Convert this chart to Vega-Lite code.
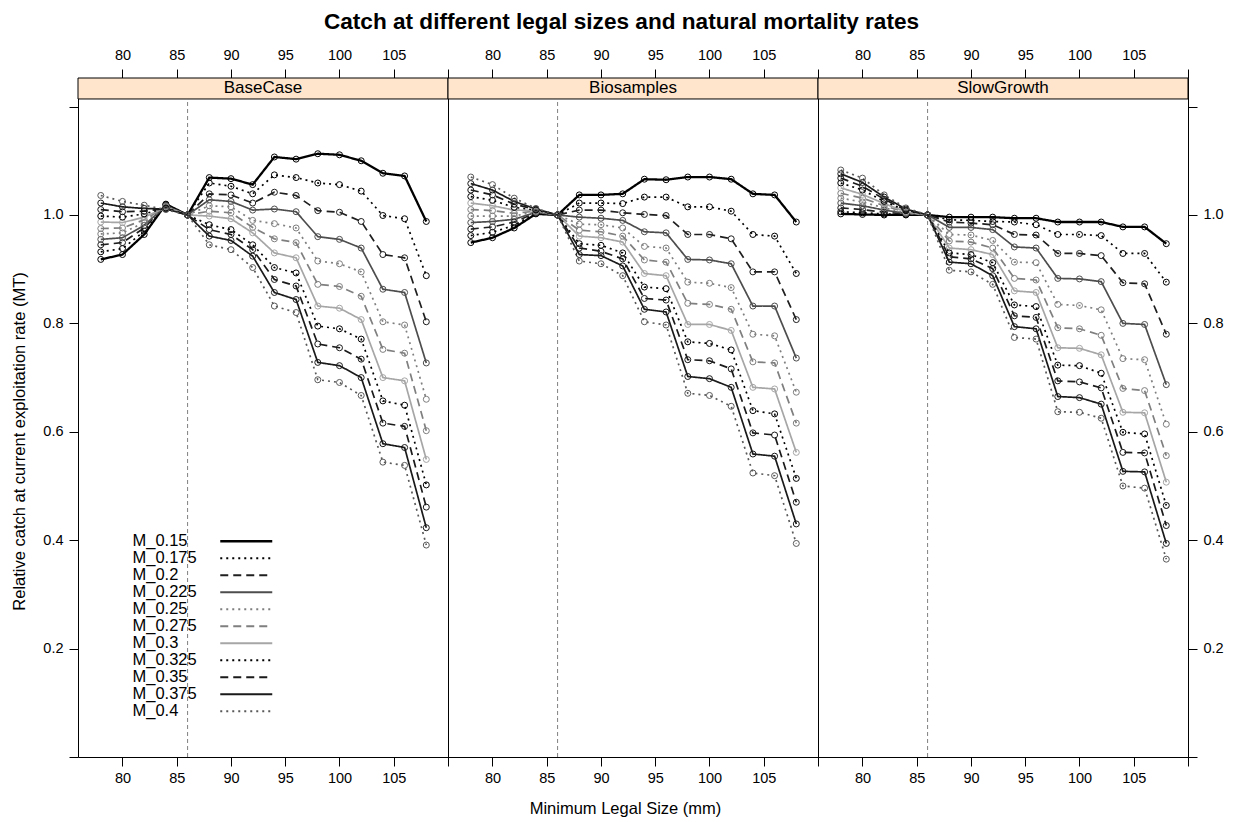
{
"$schema": "https://vega.github.io/schema/vega-lite/v6.json",
"background": "white",
"padding": {"left": 11, "right": 20, "top": 10, "bottom": 8},
"title": {"text": "Catch at different legal sizes and natural mortality rates", "font": "Liberation Sans", "fontSize": 22.6, "fontWeight": "bold", "anchor": "middle", "offset": 13, "dx": 4, "color": "#000"},
"config": {
  "view": {"stroke": "#000", "strokeWidth": 1},
  "axis": {"labelFont": "Liberation Sans", "labelFontSize": 14.5, "labelColor": "#000", "tickColor": "#000", "tickSize": 9, "tickWidth": 1, "domain": false, "grid": false, "titleFont": "Liberation Sans", "titleFontSize": 16.5, "titleFontWeight": "normal", "titleColor": "#000", "labelPadding": 4},
  "legend": {"labelFont": "Liberation Sans"}
},
"datasets": {"catch": [
{"panel":"BaseCase","M":"M_0.15","size":78,"catch":0.918},{"panel":"BaseCase","M":"M_0.15","size":80,"catch":0.927},{"panel":"BaseCase","M":"M_0.15","size":82,"catch":0.964},{"panel":"BaseCase","M":"M_0.15","size":84,"catch":1.020},{"panel":"BaseCase","M":"M_0.15","size":86,"catch":1.0},{"panel":"BaseCase","M":"M_0.15","size":88,"catch":1.069},{"panel":"BaseCase","M":"M_0.15","size":90,"catch":1.067},{"panel":"BaseCase","M":"M_0.15","size":92,"catch":1.056},{"panel":"BaseCase","M":"M_0.15","size":94,"catch":1.107},{"panel":"BaseCase","M":"M_0.15","size":96,"catch":1.103},{"panel":"BaseCase","M":"M_0.15","size":98,"catch":1.113},{"panel":"BaseCase","M":"M_0.15","size":100,"catch":1.111},{"panel":"BaseCase","M":"M_0.15","size":102,"catch":1.100},{"panel":"BaseCase","M":"M_0.15","size":104,"catch":1.077},{"panel":"BaseCase","M":"M_0.15","size":106,"catch":1.072},{"panel":"BaseCase","M":"M_0.15","size":108,"catch":0.988},
{"panel":"BaseCase","M":"M_0.175","size":78,"catch":0.932},{"panel":"BaseCase","M":"M_0.175","size":80,"catch":0.938},{"panel":"BaseCase","M":"M_0.175","size":82,"catch":0.970},{"panel":"BaseCase","M":"M_0.175","size":84,"catch":1.019},{"panel":"BaseCase","M":"M_0.175","size":86,"catch":1.0},{"panel":"BaseCase","M":"M_0.175","size":88,"catch":1.059},{"panel":"BaseCase","M":"M_0.175","size":90,"catch":1.053},{"panel":"BaseCase","M":"M_0.175","size":92,"catch":1.039},{"panel":"BaseCase","M":"M_0.175","size":94,"catch":1.074},{"panel":"BaseCase","M":"M_0.175","size":96,"catch":1.069},{"panel":"BaseCase","M":"M_0.175","size":98,"catch":1.059},{"panel":"BaseCase","M":"M_0.175","size":100,"catch":1.056},{"panel":"BaseCase","M":"M_0.175","size":102,"catch":1.044},{"panel":"BaseCase","M":"M_0.175","size":104,"catch":0.999},{"panel":"BaseCase","M":"M_0.175","size":106,"catch":0.993},{"panel":"BaseCase","M":"M_0.175","size":108,"catch":0.888},
{"panel":"BaseCase","M":"M_0.2","size":78,"catch":0.945},{"panel":"BaseCase","M":"M_0.2","size":80,"catch":0.949},{"panel":"BaseCase","M":"M_0.2","size":82,"catch":0.976},{"panel":"BaseCase","M":"M_0.2","size":84,"catch":1.018},{"panel":"BaseCase","M":"M_0.2","size":86,"catch":1.0},{"panel":"BaseCase","M":"M_0.2","size":88,"catch":1.039},{"panel":"BaseCase","M":"M_0.2","size":90,"catch":1.037},{"panel":"BaseCase","M":"M_0.2","size":92,"catch":1.022},{"panel":"BaseCase","M":"M_0.2","size":94,"catch":1.042},{"panel":"BaseCase","M":"M_0.2","size":96,"catch":1.036},{"panel":"BaseCase","M":"M_0.2","size":98,"catch":1.008},{"panel":"BaseCase","M":"M_0.2","size":100,"catch":1.005},{"panel":"BaseCase","M":"M_0.2","size":102,"catch":0.988},{"panel":"BaseCase","M":"M_0.2","size":104,"catch":0.927},{"panel":"BaseCase","M":"M_0.2","size":106,"catch":0.921},{"panel":"BaseCase","M":"M_0.2","size":108,"catch":0.803},
{"panel":"BaseCase","M":"M_0.225","size":78,"catch":0.955},{"panel":"BaseCase","M":"M_0.225","size":80,"catch":0.958},{"panel":"BaseCase","M":"M_0.225","size":82,"catch":0.981},{"panel":"BaseCase","M":"M_0.225","size":84,"catch":1.017},{"panel":"BaseCase","M":"M_0.225","size":86,"catch":1.0},{"panel":"BaseCase","M":"M_0.225","size":88,"catch":1.028},{"panel":"BaseCase","M":"M_0.225","size":90,"catch":1.025},{"panel":"BaseCase","M":"M_0.225","size":92,"catch":1.009},{"panel":"BaseCase","M":"M_0.225","size":94,"catch":1.011},{"panel":"BaseCase","M":"M_0.225","size":96,"catch":1.006},{"panel":"BaseCase","M":"M_0.225","size":98,"catch":0.960},{"panel":"BaseCase","M":"M_0.225","size":100,"catch":0.955},{"panel":"BaseCase","M":"M_0.225","size":102,"catch":0.939},{"panel":"BaseCase","M":"M_0.225","size":104,"catch":0.863},{"panel":"BaseCase","M":"M_0.225","size":106,"catch":0.857},{"panel":"BaseCase","M":"M_0.225","size":108,"catch":0.727},
{"panel":"BaseCase","M":"M_0.25","size":78,"catch":0.965},{"panel":"BaseCase","M":"M_0.25","size":80,"catch":0.967},{"panel":"BaseCase","M":"M_0.25","size":82,"catch":0.986},{"panel":"BaseCase","M":"M_0.25","size":84,"catch":1.016},{"panel":"BaseCase","M":"M_0.25","size":86,"catch":1.0},{"panel":"BaseCase","M":"M_0.25","size":88,"catch":1.017},{"panel":"BaseCase","M":"M_0.25","size":90,"catch":1.015},{"panel":"BaseCase","M":"M_0.25","size":92,"catch":0.990},{"panel":"BaseCase","M":"M_0.25","size":94,"catch":0.984},{"panel":"BaseCase","M":"M_0.25","size":96,"catch":0.976},{"panel":"BaseCase","M":"M_0.25","size":98,"catch":0.915},{"panel":"BaseCase","M":"M_0.25","size":100,"catch":0.910},{"panel":"BaseCase","M":"M_0.25","size":102,"catch":0.895},{"panel":"BaseCase","M":"M_0.25","size":104,"catch":0.803},{"panel":"BaseCase","M":"M_0.25","size":106,"catch":0.797},{"panel":"BaseCase","M":"M_0.25","size":108,"catch":0.660},
{"panel":"BaseCase","M":"M_0.275","size":78,"catch":0.975},{"panel":"BaseCase","M":"M_0.275","size":80,"catch":0.976},{"panel":"BaseCase","M":"M_0.275","size":82,"catch":0.991},{"panel":"BaseCase","M":"M_0.275","size":84,"catch":1.015},{"panel":"BaseCase","M":"M_0.275","size":86,"catch":1.0},{"panel":"BaseCase","M":"M_0.275","size":88,"catch":1.007},{"panel":"BaseCase","M":"M_0.275","size":90,"catch":1.004},{"panel":"BaseCase","M":"M_0.275","size":92,"catch":0.977},{"panel":"BaseCase","M":"M_0.275","size":94,"catch":0.956},{"panel":"BaseCase","M":"M_0.275","size":96,"catch":0.949},{"panel":"BaseCase","M":"M_0.275","size":98,"catch":0.872},{"panel":"BaseCase","M":"M_0.275","size":100,"catch":0.868},{"panel":"BaseCase","M":"M_0.275","size":102,"catch":0.850},{"panel":"BaseCase","M":"M_0.275","size":104,"catch":0.752},{"panel":"BaseCase","M":"M_0.275","size":106,"catch":0.745},{"panel":"BaseCase","M":"M_0.275","size":108,"catch":0.602},
{"panel":"BaseCase","M":"M_0.3","size":78,"catch":0.987},{"panel":"BaseCase","M":"M_0.3","size":80,"catch":0.986},{"panel":"BaseCase","M":"M_0.3","size":82,"catch":0.996},{"panel":"BaseCase","M":"M_0.3","size":84,"catch":1.014},{"panel":"BaseCase","M":"M_0.3","size":86,"catch":1.0},{"panel":"BaseCase","M":"M_0.3","size":88,"catch":0.998},{"panel":"BaseCase","M":"M_0.3","size":90,"catch":0.993},{"panel":"BaseCase","M":"M_0.3","size":92,"catch":0.967},{"panel":"BaseCase","M":"M_0.3","size":94,"catch":0.930},{"panel":"BaseCase","M":"M_0.3","size":96,"catch":0.921},{"panel":"BaseCase","M":"M_0.3","size":98,"catch":0.832},{"panel":"BaseCase","M":"M_0.3","size":100,"catch":0.828},{"panel":"BaseCase","M":"M_0.3","size":102,"catch":0.807},{"panel":"BaseCase","M":"M_0.3","size":104,"catch":0.700},{"panel":"BaseCase","M":"M_0.3","size":106,"catch":0.694},{"panel":"BaseCase","M":"M_0.3","size":108,"catch":0.549},
{"panel":"BaseCase","M":"M_0.325","size":78,"catch":0.998},{"panel":"BaseCase","M":"M_0.325","size":80,"catch":0.996},{"panel":"BaseCase","M":"M_0.325","size":82,"catch":1.002},{"panel":"BaseCase","M":"M_0.325","size":84,"catch":1.013},{"panel":"BaseCase","M":"M_0.325","size":86,"catch":1.0},{"panel":"BaseCase","M":"M_0.325","size":88,"catch":0.982},{"panel":"BaseCase","M":"M_0.325","size":90,"catch":0.973},{"panel":"BaseCase","M":"M_0.325","size":92,"catch":0.945},{"panel":"BaseCase","M":"M_0.325","size":94,"catch":0.903},{"panel":"BaseCase","M":"M_0.325","size":96,"catch":0.893},{"panel":"BaseCase","M":"M_0.325","size":98,"catch":0.795},{"panel":"BaseCase","M":"M_0.325","size":100,"catch":0.790},{"panel":"BaseCase","M":"M_0.325","size":102,"catch":0.771},{"panel":"BaseCase","M":"M_0.325","size":104,"catch":0.657},{"panel":"BaseCase","M":"M_0.325","size":106,"catch":0.649},{"panel":"BaseCase","M":"M_0.325","size":108,"catch":0.502},
{"panel":"BaseCase","M":"M_0.35","size":78,"catch":1.010},{"panel":"BaseCase","M":"M_0.35","size":80,"catch":1.006},{"panel":"BaseCase","M":"M_0.35","size":82,"catch":1.007},{"panel":"BaseCase","M":"M_0.35","size":84,"catch":1.012},{"panel":"BaseCase","M":"M_0.35","size":86,"catch":1.0},{"panel":"BaseCase","M":"M_0.35","size":88,"catch":0.973},{"panel":"BaseCase","M":"M_0.35","size":90,"catch":0.964},{"panel":"BaseCase","M":"M_0.35","size":92,"catch":0.936},{"panel":"BaseCase","M":"M_0.35","size":94,"catch":0.881},{"panel":"BaseCase","M":"M_0.35","size":96,"catch":0.869},{"panel":"BaseCase","M":"M_0.35","size":98,"catch":0.762},{"panel":"BaseCase","M":"M_0.35","size":100,"catch":0.755},{"panel":"BaseCase","M":"M_0.35","size":102,"catch":0.734},{"panel":"BaseCase","M":"M_0.35","size":104,"catch":0.616},{"panel":"BaseCase","M":"M_0.35","size":106,"catch":0.610},{"panel":"BaseCase","M":"M_0.35","size":108,"catch":0.461},
{"panel":"BaseCase","M":"M_0.375","size":78,"catch":1.022},{"panel":"BaseCase","M":"M_0.375","size":80,"catch":1.015},{"panel":"BaseCase","M":"M_0.375","size":82,"catch":1.012},{"panel":"BaseCase","M":"M_0.375","size":84,"catch":1.011},{"panel":"BaseCase","M":"M_0.375","size":86,"catch":1.0},{"panel":"BaseCase","M":"M_0.375","size":88,"catch":0.961},{"panel":"BaseCase","M":"M_0.375","size":90,"catch":0.953},{"panel":"BaseCase","M":"M_0.375","size":92,"catch":0.924},{"panel":"BaseCase","M":"M_0.375","size":94,"catch":0.857},{"panel":"BaseCase","M":"M_0.375","size":96,"catch":0.844},{"panel":"BaseCase","M":"M_0.375","size":98,"catch":0.728},{"panel":"BaseCase","M":"M_0.375","size":100,"catch":0.722},{"panel":"BaseCase","M":"M_0.375","size":102,"catch":0.700},{"panel":"BaseCase","M":"M_0.375","size":104,"catch":0.578},{"panel":"BaseCase","M":"M_0.375","size":106,"catch":0.571},{"panel":"BaseCase","M":"M_0.375","size":108,"catch":0.423},
{"panel":"BaseCase","M":"M_0.4","size":78,"catch":1.036},{"panel":"BaseCase","M":"M_0.4","size":80,"catch":1.025},{"panel":"BaseCase","M":"M_0.4","size":82,"catch":1.018},{"panel":"BaseCase","M":"M_0.4","size":84,"catch":1.010},{"panel":"BaseCase","M":"M_0.4","size":86,"catch":1.0},{"panel":"BaseCase","M":"M_0.4","size":88,"catch":0.945},{"panel":"BaseCase","M":"M_0.4","size":90,"catch":0.936},{"panel":"BaseCase","M":"M_0.4","size":92,"catch":0.903},{"panel":"BaseCase","M":"M_0.4","size":94,"catch":0.832},{"panel":"BaseCase","M":"M_0.4","size":96,"catch":0.820},{"panel":"BaseCase","M":"M_0.4","size":98,"catch":0.696},{"panel":"BaseCase","M":"M_0.4","size":100,"catch":0.691},{"panel":"BaseCase","M":"M_0.4","size":102,"catch":0.667},{"panel":"BaseCase","M":"M_0.4","size":104,"catch":0.544},{"panel":"BaseCase","M":"M_0.4","size":106,"catch":0.538},{"panel":"BaseCase","M":"M_0.4","size":108,"catch":0.391},
{"panel":"Biosamples","M":"M_0.15","size":78,"catch":0.949},{"panel":"Biosamples","M":"M_0.15","size":80,"catch":0.958},{"panel":"Biosamples","M":"M_0.15","size":82,"catch":0.976},{"panel":"Biosamples","M":"M_0.15","size":84,"catch":1.002},{"panel":"Biosamples","M":"M_0.15","size":86,"catch":1.0},{"panel":"Biosamples","M":"M_0.15","size":88,"catch":1.037},{"panel":"Biosamples","M":"M_0.15","size":90,"catch":1.037},{"panel":"Biosamples","M":"M_0.15","size":92,"catch":1.039},{"panel":"Biosamples","M":"M_0.15","size":94,"catch":1.066},{"panel":"Biosamples","M":"M_0.15","size":96,"catch":1.065},{"panel":"Biosamples","M":"M_0.15","size":98,"catch":1.070},{"panel":"Biosamples","M":"M_0.15","size":100,"catch":1.070},{"panel":"Biosamples","M":"M_0.15","size":102,"catch":1.066},{"panel":"Biosamples","M":"M_0.15","size":104,"catch":1.039},{"panel":"Biosamples","M":"M_0.15","size":106,"catch":1.037},{"panel":"Biosamples","M":"M_0.15","size":108,"catch":0.987},
{"panel":"Biosamples","M":"M_0.175","size":78,"catch":0.962},{"panel":"Biosamples","M":"M_0.175","size":80,"catch":0.968},{"panel":"Biosamples","M":"M_0.175","size":82,"catch":0.981},{"panel":"Biosamples","M":"M_0.175","size":84,"catch":1.003},{"panel":"Biosamples","M":"M_0.175","size":86,"catch":1.0},{"panel":"Biosamples","M":"M_0.175","size":88,"catch":1.022},{"panel":"Biosamples","M":"M_0.175","size":90,"catch":1.022},{"panel":"Biosamples","M":"M_0.175","size":92,"catch":1.021},{"panel":"Biosamples","M":"M_0.175","size":94,"catch":1.033},{"panel":"Biosamples","M":"M_0.175","size":96,"catch":1.033},{"panel":"Biosamples","M":"M_0.175","size":98,"catch":1.015},{"panel":"Biosamples","M":"M_0.175","size":100,"catch":1.015},{"panel":"Biosamples","M":"M_0.175","size":102,"catch":1.007},{"panel":"Biosamples","M":"M_0.175","size":104,"catch":0.964},{"panel":"Biosamples","M":"M_0.175","size":106,"catch":0.961},{"panel":"Biosamples","M":"M_0.175","size":108,"catch":0.892},
{"panel":"Biosamples","M":"M_0.2","size":78,"catch":0.974},{"panel":"Biosamples","M":"M_0.2","size":80,"catch":0.978},{"panel":"Biosamples","M":"M_0.2","size":82,"catch":0.987},{"panel":"Biosamples","M":"M_0.2","size":84,"catch":1.004},{"panel":"Biosamples","M":"M_0.2","size":86,"catch":1.0},{"panel":"Biosamples","M":"M_0.2","size":88,"catch":1.009},{"panel":"Biosamples","M":"M_0.2","size":90,"catch":1.009},{"panel":"Biosamples","M":"M_0.2","size":92,"catch":1.004},{"panel":"Biosamples","M":"M_0.2","size":94,"catch":1.001},{"panel":"Biosamples","M":"M_0.2","size":96,"catch":0.999},{"panel":"Biosamples","M":"M_0.2","size":98,"catch":0.964},{"panel":"Biosamples","M":"M_0.2","size":100,"catch":0.964},{"panel":"Biosamples","M":"M_0.2","size":102,"catch":0.956},{"panel":"Biosamples","M":"M_0.2","size":104,"catch":0.895},{"panel":"Biosamples","M":"M_0.2","size":106,"catch":0.895},{"panel":"Biosamples","M":"M_0.2","size":108,"catch":0.807},
{"panel":"Biosamples","M":"M_0.225","size":78,"catch":0.986},{"panel":"Biosamples","M":"M_0.225","size":80,"catch":0.988},{"panel":"Biosamples","M":"M_0.225","size":82,"catch":0.992},{"panel":"Biosamples","M":"M_0.225","size":84,"catch":1.005},{"panel":"Biosamples","M":"M_0.225","size":86,"catch":1.0},{"panel":"Biosamples","M":"M_0.225","size":88,"catch":0.996},{"panel":"Biosamples","M":"M_0.225","size":90,"catch":0.994},{"panel":"Biosamples","M":"M_0.225","size":92,"catch":0.990},{"panel":"Biosamples","M":"M_0.225","size":94,"catch":0.969},{"panel":"Biosamples","M":"M_0.225","size":96,"catch":0.967},{"panel":"Biosamples","M":"M_0.225","size":98,"catch":0.918},{"panel":"Biosamples","M":"M_0.225","size":100,"catch":0.917},{"panel":"Biosamples","M":"M_0.225","size":102,"catch":0.910},{"panel":"Biosamples","M":"M_0.225","size":104,"catch":0.832},{"panel":"Biosamples","M":"M_0.225","size":106,"catch":0.832},{"panel":"Biosamples","M":"M_0.225","size":108,"catch":0.736},
{"panel":"Biosamples","M":"M_0.25","size":78,"catch":0.998},{"panel":"Biosamples","M":"M_0.25","size":80,"catch":0.998},{"panel":"Biosamples","M":"M_0.25","size":82,"catch":0.998},{"panel":"Biosamples","M":"M_0.25","size":84,"catch":1.006},{"panel":"Biosamples","M":"M_0.25","size":86,"catch":1.0},{"panel":"Biosamples","M":"M_0.25","size":88,"catch":0.983},{"panel":"Biosamples","M":"M_0.25","size":90,"catch":0.982},{"panel":"Biosamples","M":"M_0.25","size":92,"catch":0.976},{"panel":"Biosamples","M":"M_0.25","size":94,"catch":0.942},{"panel":"Biosamples","M":"M_0.25","size":96,"catch":0.939},{"panel":"Biosamples","M":"M_0.25","size":98,"catch":0.876},{"panel":"Biosamples","M":"M_0.25","size":100,"catch":0.874},{"panel":"Biosamples","M":"M_0.25","size":102,"catch":0.866},{"panel":"Biosamples","M":"M_0.25","size":104,"catch":0.780},{"panel":"Biosamples","M":"M_0.25","size":106,"catch":0.777},{"panel":"Biosamples","M":"M_0.25","size":108,"catch":0.673},
{"panel":"Biosamples","M":"M_0.275","size":78,"catch":1.010},{"panel":"Biosamples","M":"M_0.275","size":80,"catch":1.008},{"panel":"Biosamples","M":"M_0.275","size":82,"catch":1.003},{"panel":"Biosamples","M":"M_0.275","size":84,"catch":1.007},{"panel":"Biosamples","M":"M_0.275","size":86,"catch":1.0},{"panel":"Biosamples","M":"M_0.275","size":88,"catch":0.972},{"panel":"Biosamples","M":"M_0.275","size":90,"catch":0.969},{"panel":"Biosamples","M":"M_0.275","size":92,"catch":0.961},{"panel":"Biosamples","M":"M_0.275","size":94,"catch":0.917},{"panel":"Biosamples","M":"M_0.275","size":96,"catch":0.913},{"panel":"Biosamples","M":"M_0.275","size":98,"catch":0.837},{"panel":"Biosamples","M":"M_0.275","size":100,"catch":0.835},{"panel":"Biosamples","M":"M_0.275","size":102,"catch":0.826},{"panel":"Biosamples","M":"M_0.275","size":104,"catch":0.729},{"panel":"Biosamples","M":"M_0.275","size":106,"catch":0.727},{"panel":"Biosamples","M":"M_0.275","size":108,"catch":0.616},
{"panel":"Biosamples","M":"M_0.3","size":78,"catch":1.022},{"panel":"Biosamples","M":"M_0.3","size":80,"catch":1.017},{"panel":"Biosamples","M":"M_0.3","size":82,"catch":1.009},{"panel":"Biosamples","M":"M_0.3","size":84,"catch":1.008},{"panel":"Biosamples","M":"M_0.3","size":86,"catch":1.0},{"panel":"Biosamples","M":"M_0.3","size":88,"catch":0.961},{"panel":"Biosamples","M":"M_0.3","size":90,"catch":0.958},{"panel":"Biosamples","M":"M_0.3","size":92,"catch":0.950},{"panel":"Biosamples","M":"M_0.3","size":94,"catch":0.892},{"panel":"Biosamples","M":"M_0.3","size":96,"catch":0.888},{"panel":"Biosamples","M":"M_0.3","size":98,"catch":0.798},{"panel":"Biosamples","M":"M_0.3","size":100,"catch":0.798},{"panel":"Biosamples","M":"M_0.3","size":102,"catch":0.787},{"panel":"Biosamples","M":"M_0.3","size":104,"catch":0.682},{"panel":"Biosamples","M":"M_0.3","size":106,"catch":0.679},{"panel":"Biosamples","M":"M_0.3","size":108,"catch":0.562},
{"panel":"Biosamples","M":"M_0.325","size":78,"catch":1.034},{"panel":"Biosamples","M":"M_0.325","size":80,"catch":1.027},{"panel":"Biosamples","M":"M_0.325","size":82,"catch":1.014},{"panel":"Biosamples","M":"M_0.325","size":84,"catch":1.009},{"panel":"Biosamples","M":"M_0.325","size":86,"catch":1.0},{"panel":"Biosamples","M":"M_0.325","size":88,"catch":0.947},{"panel":"Biosamples","M":"M_0.325","size":90,"catch":0.944},{"panel":"Biosamples","M":"M_0.325","size":92,"catch":0.930},{"panel":"Biosamples","M":"M_0.325","size":94,"catch":0.867},{"panel":"Biosamples","M":"M_0.325","size":96,"catch":0.864},{"panel":"Biosamples","M":"M_0.325","size":98,"catch":0.766},{"panel":"Biosamples","M":"M_0.325","size":100,"catch":0.763},{"panel":"Biosamples","M":"M_0.325","size":102,"catch":0.751},{"panel":"Biosamples","M":"M_0.325","size":104,"catch":0.639},{"panel":"Biosamples","M":"M_0.325","size":106,"catch":0.633},{"panel":"Biosamples","M":"M_0.325","size":108,"catch":0.514},
{"panel":"Biosamples","M":"M_0.35","size":78,"catch":1.046},{"panel":"Biosamples","M":"M_0.35","size":80,"catch":1.037},{"panel":"Biosamples","M":"M_0.35","size":82,"catch":1.020},{"panel":"Biosamples","M":"M_0.35","size":84,"catch":1.010},{"panel":"Biosamples","M":"M_0.35","size":86,"catch":1.0},{"panel":"Biosamples","M":"M_0.35","size":88,"catch":0.939},{"panel":"Biosamples","M":"M_0.35","size":90,"catch":0.933},{"panel":"Biosamples","M":"M_0.35","size":92,"catch":0.919},{"panel":"Biosamples","M":"M_0.35","size":94,"catch":0.846},{"panel":"Biosamples","M":"M_0.35","size":96,"catch":0.843},{"panel":"Biosamples","M":"M_0.35","size":98,"catch":0.733},{"panel":"Biosamples","M":"M_0.35","size":100,"catch":0.731},{"panel":"Biosamples","M":"M_0.35","size":102,"catch":0.716},{"panel":"Biosamples","M":"M_0.35","size":104,"catch":0.598},{"panel":"Biosamples","M":"M_0.35","size":106,"catch":0.594},{"panel":"Biosamples","M":"M_0.35","size":108,"catch":0.470},
{"panel":"Biosamples","M":"M_0.375","size":78,"catch":1.058},{"panel":"Biosamples","M":"M_0.375","size":80,"catch":1.046},{"panel":"Biosamples","M":"M_0.375","size":82,"catch":1.025},{"panel":"Biosamples","M":"M_0.375","size":84,"catch":1.011},{"panel":"Biosamples","M":"M_0.375","size":86,"catch":1.0},{"panel":"Biosamples","M":"M_0.375","size":88,"catch":0.927},{"panel":"Biosamples","M":"M_0.375","size":90,"catch":0.925},{"panel":"Biosamples","M":"M_0.375","size":92,"catch":0.906},{"panel":"Biosamples","M":"M_0.375","size":94,"catch":0.826},{"panel":"Biosamples","M":"M_0.375","size":96,"catch":0.821},{"panel":"Biosamples","M":"M_0.375","size":98,"catch":0.702},{"panel":"Biosamples","M":"M_0.375","size":100,"catch":0.698},{"panel":"Biosamples","M":"M_0.375","size":102,"catch":0.682},{"panel":"Biosamples","M":"M_0.375","size":104,"catch":0.559},{"panel":"Biosamples","M":"M_0.375","size":106,"catch":0.555},{"panel":"Biosamples","M":"M_0.375","size":108,"catch":0.430},
{"panel":"Biosamples","M":"M_0.4","size":78,"catch":1.070},{"panel":"Biosamples","M":"M_0.4","size":80,"catch":1.056},{"panel":"Biosamples","M":"M_0.4","size":82,"catch":1.031},{"panel":"Biosamples","M":"M_0.4","size":84,"catch":1.012},{"panel":"Biosamples","M":"M_0.4","size":86,"catch":1.0},{"panel":"Biosamples","M":"M_0.4","size":88,"catch":0.915},{"panel":"Biosamples","M":"M_0.4","size":90,"catch":0.910},{"panel":"Biosamples","M":"M_0.4","size":92,"catch":0.888},{"panel":"Biosamples","M":"M_0.4","size":94,"catch":0.803},{"panel":"Biosamples","M":"M_0.4","size":96,"catch":0.797},{"panel":"Biosamples","M":"M_0.4","size":98,"catch":0.671},{"panel":"Biosamples","M":"M_0.4","size":100,"catch":0.667},{"panel":"Biosamples","M":"M_0.4","size":102,"catch":0.647},{"panel":"Biosamples","M":"M_0.4","size":104,"catch":0.524},{"panel":"Biosamples","M":"M_0.4","size":106,"catch":0.519},{"panel":"Biosamples","M":"M_0.4","size":108,"catch":0.394},
{"panel":"SlowGrowth","M":"M_0.15","size":78,"catch":1.002},{"panel":"SlowGrowth","M":"M_0.15","size":80,"catch":1.001},{"panel":"SlowGrowth","M":"M_0.15","size":82,"catch":1.000},{"panel":"SlowGrowth","M":"M_0.15","size":84,"catch":1.000},{"panel":"SlowGrowth","M":"M_0.15","size":86,"catch":1.0},{"panel":"SlowGrowth","M":"M_0.15","size":88,"catch":0.996},{"panel":"SlowGrowth","M":"M_0.15","size":90,"catch":0.996},{"panel":"SlowGrowth","M":"M_0.15","size":92,"catch":0.996},{"panel":"SlowGrowth","M":"M_0.15","size":94,"catch":0.994},{"panel":"SlowGrowth","M":"M_0.15","size":96,"catch":0.994},{"panel":"SlowGrowth","M":"M_0.15","size":98,"catch":0.987},{"panel":"SlowGrowth","M":"M_0.15","size":100,"catch":0.987},{"panel":"SlowGrowth","M":"M_0.15","size":102,"catch":0.987},{"panel":"SlowGrowth","M":"M_0.15","size":104,"catch":0.978},{"panel":"SlowGrowth","M":"M_0.15","size":106,"catch":0.978},{"panel":"SlowGrowth","M":"M_0.15","size":108,"catch":0.947},
{"panel":"SlowGrowth","M":"M_0.175","size":78,"catch":1.006},{"panel":"SlowGrowth","M":"M_0.175","size":80,"catch":1.004},{"panel":"SlowGrowth","M":"M_0.175","size":82,"catch":1.002},{"panel":"SlowGrowth","M":"M_0.175","size":84,"catch":1.001},{"panel":"SlowGrowth","M":"M_0.175","size":86,"catch":1.0},{"panel":"SlowGrowth","M":"M_0.175","size":88,"catch":0.991},{"panel":"SlowGrowth","M":"M_0.175","size":90,"catch":0.990},{"panel":"SlowGrowth","M":"M_0.175","size":92,"catch":0.988},{"panel":"SlowGrowth","M":"M_0.175","size":94,"catch":0.987},{"panel":"SlowGrowth","M":"M_0.175","size":96,"catch":0.982},{"panel":"SlowGrowth","M":"M_0.175","size":98,"catch":0.964},{"panel":"SlowGrowth","M":"M_0.175","size":100,"catch":0.964},{"panel":"SlowGrowth","M":"M_0.175","size":102,"catch":0.962},{"panel":"SlowGrowth","M":"M_0.175","size":104,"catch":0.929},{"panel":"SlowGrowth","M":"M_0.175","size":106,"catch":0.929},{"panel":"SlowGrowth","M":"M_0.175","size":108,"catch":0.876},
{"panel":"SlowGrowth","M":"M_0.2","size":78,"catch":1.013},{"panel":"SlowGrowth","M":"M_0.2","size":80,"catch":1.010},{"panel":"SlowGrowth","M":"M_0.2","size":82,"catch":1.005},{"panel":"SlowGrowth","M":"M_0.2","size":84,"catch":1.002},{"panel":"SlowGrowth","M":"M_0.2","size":86,"catch":1.0},{"panel":"SlowGrowth","M":"M_0.2","size":88,"catch":0.987},{"panel":"SlowGrowth","M":"M_0.2","size":90,"catch":0.985},{"panel":"SlowGrowth","M":"M_0.2","size":92,"catch":0.982},{"panel":"SlowGrowth","M":"M_0.2","size":94,"catch":0.964},{"panel":"SlowGrowth","M":"M_0.2","size":96,"catch":0.963},{"panel":"SlowGrowth","M":"M_0.2","size":98,"catch":0.929},{"panel":"SlowGrowth","M":"M_0.2","size":100,"catch":0.929},{"panel":"SlowGrowth","M":"M_0.2","size":102,"catch":0.925},{"panel":"SlowGrowth","M":"M_0.2","size":104,"catch":0.875},{"panel":"SlowGrowth","M":"M_0.2","size":106,"catch":0.873},{"panel":"SlowGrowth","M":"M_0.2","size":108,"catch":0.780},
{"panel":"SlowGrowth","M":"M_0.225","size":78,"catch":1.022},{"panel":"SlowGrowth","M":"M_0.225","size":80,"catch":1.017},{"panel":"SlowGrowth","M":"M_0.225","size":82,"catch":1.009},{"panel":"SlowGrowth","M":"M_0.225","size":84,"catch":1.003},{"panel":"SlowGrowth","M":"M_0.225","size":86,"catch":1.0},{"panel":"SlowGrowth","M":"M_0.225","size":88,"catch":0.977},{"panel":"SlowGrowth","M":"M_0.225","size":90,"catch":0.977},{"panel":"SlowGrowth","M":"M_0.225","size":92,"catch":0.973},{"panel":"SlowGrowth","M":"M_0.225","size":94,"catch":0.941},{"panel":"SlowGrowth","M":"M_0.225","size":96,"catch":0.939},{"panel":"SlowGrowth","M":"M_0.225","size":98,"catch":0.883},{"panel":"SlowGrowth","M":"M_0.225","size":100,"catch":0.882},{"panel":"SlowGrowth","M":"M_0.225","size":102,"catch":0.877},{"panel":"SlowGrowth","M":"M_0.225","size":104,"catch":0.800},{"panel":"SlowGrowth","M":"M_0.225","size":106,"catch":0.798},{"panel":"SlowGrowth","M":"M_0.225","size":108,"catch":0.687},
{"panel":"SlowGrowth","M":"M_0.25","size":78,"catch":1.031},{"panel":"SlowGrowth","M":"M_0.25","size":80,"catch":1.024},{"panel":"SlowGrowth","M":"M_0.25","size":82,"catch":1.013},{"panel":"SlowGrowth","M":"M_0.25","size":84,"catch":1.004},{"panel":"SlowGrowth","M":"M_0.25","size":86,"catch":1.0},{"panel":"SlowGrowth","M":"M_0.25","size":88,"catch":0.964},{"panel":"SlowGrowth","M":"M_0.25","size":90,"catch":0.963},{"panel":"SlowGrowth","M":"M_0.25","size":92,"catch":0.953},{"panel":"SlowGrowth","M":"M_0.25","size":94,"catch":0.913},{"panel":"SlowGrowth","M":"M_0.25","size":96,"catch":0.912},{"panel":"SlowGrowth","M":"M_0.25","size":98,"catch":0.835},{"panel":"SlowGrowth","M":"M_0.25","size":100,"catch":0.833},{"panel":"SlowGrowth","M":"M_0.25","size":102,"catch":0.825},{"panel":"SlowGrowth","M":"M_0.25","size":104,"catch":0.735},{"panel":"SlowGrowth","M":"M_0.25","size":106,"catch":0.733},{"panel":"SlowGrowth","M":"M_0.25","size":108,"catch":0.614},
{"panel":"SlowGrowth","M":"M_0.275","size":78,"catch":1.040},{"panel":"SlowGrowth","M":"M_0.275","size":80,"catch":1.031},{"panel":"SlowGrowth","M":"M_0.275","size":82,"catch":1.017},{"panel":"SlowGrowth","M":"M_0.275","size":84,"catch":1.005},{"panel":"SlowGrowth","M":"M_0.275","size":86,"catch":1.0},{"panel":"SlowGrowth","M":"M_0.275","size":88,"catch":0.952},{"panel":"SlowGrowth","M":"M_0.275","size":90,"catch":0.950},{"panel":"SlowGrowth","M":"M_0.275","size":92,"catch":0.939},{"panel":"SlowGrowth","M":"M_0.275","size":94,"catch":0.883},{"panel":"SlowGrowth","M":"M_0.275","size":96,"catch":0.880},{"panel":"SlowGrowth","M":"M_0.275","size":98,"catch":0.792},{"panel":"SlowGrowth","M":"M_0.275","size":100,"catch":0.790},{"panel":"SlowGrowth","M":"M_0.275","size":102,"catch":0.778},{"panel":"SlowGrowth","M":"M_0.275","size":104,"catch":0.680},{"panel":"SlowGrowth","M":"M_0.275","size":106,"catch":0.676},{"panel":"SlowGrowth","M":"M_0.275","size":108,"catch":0.556},
{"panel":"SlowGrowth","M":"M_0.3","size":78,"catch":1.050},{"panel":"SlowGrowth","M":"M_0.3","size":80,"catch":1.038},{"panel":"SlowGrowth","M":"M_0.3","size":82,"catch":1.021},{"panel":"SlowGrowth","M":"M_0.3","size":84,"catch":1.006},{"panel":"SlowGrowth","M":"M_0.3","size":86,"catch":1.0},{"panel":"SlowGrowth","M":"M_0.3","size":88,"catch":0.939},{"panel":"SlowGrowth","M":"M_0.3","size":90,"catch":0.936},{"panel":"SlowGrowth","M":"M_0.3","size":92,"catch":0.927},{"panel":"SlowGrowth","M":"M_0.3","size":94,"catch":0.860},{"panel":"SlowGrowth","M":"M_0.3","size":96,"catch":0.857},{"panel":"SlowGrowth","M":"M_0.3","size":98,"catch":0.755},{"panel":"SlowGrowth","M":"M_0.3","size":100,"catch":0.754},{"panel":"SlowGrowth","M":"M_0.3","size":102,"catch":0.742},{"panel":"SlowGrowth","M":"M_0.3","size":104,"catch":0.636},{"panel":"SlowGrowth","M":"M_0.3","size":106,"catch":0.635},{"panel":"SlowGrowth","M":"M_0.3","size":108,"catch":0.507},
{"panel":"SlowGrowth","M":"M_0.325","size":78,"catch":1.059},{"panel":"SlowGrowth","M":"M_0.325","size":80,"catch":1.046},{"panel":"SlowGrowth","M":"M_0.325","size":82,"catch":1.025},{"panel":"SlowGrowth","M":"M_0.325","size":84,"catch":1.008},{"panel":"SlowGrowth","M":"M_0.325","size":86,"catch":1.0},{"panel":"SlowGrowth","M":"M_0.325","size":88,"catch":0.930},{"panel":"SlowGrowth","M":"M_0.325","size":90,"catch":0.927},{"panel":"SlowGrowth","M":"M_0.325","size":92,"catch":0.912},{"panel":"SlowGrowth","M":"M_0.325","size":94,"catch":0.834},{"panel":"SlowGrowth","M":"M_0.325","size":96,"catch":0.831},{"panel":"SlowGrowth","M":"M_0.325","size":98,"catch":0.723},{"panel":"SlowGrowth","M":"M_0.325","size":100,"catch":0.722},{"panel":"SlowGrowth","M":"M_0.325","size":102,"catch":0.708},{"panel":"SlowGrowth","M":"M_0.325","size":104,"catch":0.599},{"panel":"SlowGrowth","M":"M_0.325","size":106,"catch":0.596},{"panel":"SlowGrowth","M":"M_0.325","size":108,"catch":0.464},
{"panel":"SlowGrowth","M":"M_0.35","size":78,"catch":1.068},{"panel":"SlowGrowth","M":"M_0.35","size":80,"catch":1.053},{"panel":"SlowGrowth","M":"M_0.35","size":82,"catch":1.029},{"panel":"SlowGrowth","M":"M_0.35","size":84,"catch":1.009},{"panel":"SlowGrowth","M":"M_0.35","size":86,"catch":1.0},{"panel":"SlowGrowth","M":"M_0.35","size":88,"catch":0.923},{"panel":"SlowGrowth","M":"M_0.35","size":90,"catch":0.919},{"panel":"SlowGrowth","M":"M_0.35","size":92,"catch":0.901},{"panel":"SlowGrowth","M":"M_0.35","size":94,"catch":0.814},{"panel":"SlowGrowth","M":"M_0.35","size":96,"catch":0.811},{"panel":"SlowGrowth","M":"M_0.35","size":98,"catch":0.694},{"panel":"SlowGrowth","M":"M_0.35","size":100,"catch":0.692},{"panel":"SlowGrowth","M":"M_0.35","size":102,"catch":0.681},{"panel":"SlowGrowth","M":"M_0.35","size":104,"catch":0.562},{"panel":"SlowGrowth","M":"M_0.35","size":106,"catch":0.561},{"panel":"SlowGrowth","M":"M_0.35","size":108,"catch":0.427},
{"panel":"SlowGrowth","M":"M_0.375","size":78,"catch":1.076},{"panel":"SlowGrowth","M":"M_0.375","size":80,"catch":1.060},{"panel":"SlowGrowth","M":"M_0.375","size":82,"catch":1.033},{"panel":"SlowGrowth","M":"M_0.375","size":84,"catch":1.011},{"panel":"SlowGrowth","M":"M_0.375","size":86,"catch":1.0},{"panel":"SlowGrowth","M":"M_0.375","size":88,"catch":0.913},{"panel":"SlowGrowth","M":"M_0.375","size":90,"catch":0.910},{"panel":"SlowGrowth","M":"M_0.375","size":92,"catch":0.888},{"panel":"SlowGrowth","M":"M_0.375","size":94,"catch":0.794},{"panel":"SlowGrowth","M":"M_0.375","size":96,"catch":0.790},{"panel":"SlowGrowth","M":"M_0.375","size":98,"catch":0.665},{"panel":"SlowGrowth","M":"M_0.375","size":100,"catch":0.663},{"panel":"SlowGrowth","M":"M_0.375","size":102,"catch":0.651},{"panel":"SlowGrowth","M":"M_0.375","size":104,"catch":0.527},{"panel":"SlowGrowth","M":"M_0.375","size":106,"catch":0.526},{"panel":"SlowGrowth","M":"M_0.375","size":108,"catch":0.394},
{"panel":"SlowGrowth","M":"M_0.4","size":78,"catch":1.083},{"panel":"SlowGrowth","M":"M_0.4","size":80,"catch":1.068},{"panel":"SlowGrowth","M":"M_0.4","size":82,"catch":1.037},{"panel":"SlowGrowth","M":"M_0.4","size":84,"catch":1.013},{"panel":"SlowGrowth","M":"M_0.4","size":86,"catch":1.0},{"panel":"SlowGrowth","M":"M_0.4","size":88,"catch":0.898},{"panel":"SlowGrowth","M":"M_0.4","size":90,"catch":0.895},{"panel":"SlowGrowth","M":"M_0.4","size":92,"catch":0.872},{"panel":"SlowGrowth","M":"M_0.4","size":94,"catch":0.774},{"panel":"SlowGrowth","M":"M_0.4","size":96,"catch":0.771},{"panel":"SlowGrowth","M":"M_0.4","size":98,"catch":0.637},{"panel":"SlowGrowth","M":"M_0.4","size":100,"catch":0.636},{"panel":"SlowGrowth","M":"M_0.4","size":102,"catch":0.625},{"panel":"SlowGrowth","M":"M_0.4","size":104,"catch":0.500},{"panel":"SlowGrowth","M":"M_0.4","size":106,"catch":0.496},{"panel":"SlowGrowth","M":"M_0.4","size":108,"catch":0.365}
]},
"hconcat": [
{
 "width": 370, "height": 679,
 "layer": [
  {"data": {"values": [{"panel": "BaseCase"}]},
   "mark": {"type": "rect", "fill": "#FFE5CC", "stroke": "#000", "strokeWidth": 1},
   "encoding": {
     "x": {"datum": 75.9, "type": "quantitative", "scale": {"domain": [75.9, 110], "nice": false, "zero": false}, "axis": {"orient": "top", "values": [80,85,90,95,100,105,110], "labelExpr": "datum.value == 110 ? '' : datum.label", "title": null, "labelPadding": 7}},
     "x2": {"datum": 110},
     "y": {"datum": 1.214, "type": "quantitative", "scale": {"domain": [0, 1.2527], "nice": false, "zero": false}, "axis": null},
     "y2": {"datum": 1.2527}}},
  {"data": {"values": [{"panel": "BaseCase"}]},
   "mark": {"type": "text", "font": "Liberation Sans", "fontSize": 17, "color": "#000"},
   "encoding": {"x": {"datum": 92.95, "type": "quantitative", "axis": null}, "y": {"datum": 1.2335, "type": "quantitative", "axis": null}, "text": {"field": "panel"}}},
  {"data": {"values": [{"legal": 86}]},
   "mark": {"type": "rule", "color": "#808080", "strokeDash": [4, 3], "strokeWidth": 1},
   "encoding": {"x": {"field": "legal", "type": "quantitative", "axis": null}, "y": {"datum": 0, "type": "quantitative", "axis": null}, "y2": {"datum": 1.214}}},
  {"data": {"name": "catch"}, "transform": [{"filter": "datum.panel == 'BaseCase'"}],
   "mark": {"type": "line"},
   "encoding": {
     "x": {"field": "size", "type": "quantitative", "axis": {"orient": "bottom", "values": [80,85,90,95,100,105,110], "labelExpr": "datum.value == 110 ? '' : datum.label", "title": null, "labelPadding": 5.5}},
     "y": {"field": "catch", "type": "quantitative", "axis": {"orient": "left", "values": [0,0.2,0.4,0.6,0.8,1,1.2], "labelExpr": "datum.value == 0 || datum.value == 1.2 ? '' : format(datum.value, '.1f')", "labelPadding": 6, "title": "Relative catch at current exploitation rate (MT)", "titlePadding": 15, "titleY": 363}},
     "color": {"field": "M", "type": "nominal", "scale": {"domain": ["M_0.15","M_0.175","M_0.2","M_0.225","M_0.25","M_0.275","M_0.3","M_0.325","M_0.35","M_0.375","M_0.4"], "range": ["#000000","#000000","#1f1f1f","#4d4d4d","#7f7f7f","#7f7f7f","#a6a6a6","#000000","#1a1a1a","#1a1a1a","#595959"]},
       "legend": {"title": null, "orient": "none", "legendX": 73, "legendY": 455, "symbolType": "stroke", "symbolSize": 2704, "symbolStrokeWidth": 1.8, "symbolOffset": 87, "labelOffset": -122, "labelAlign": "left", "labelFontSize": 16.5, "labelColor": "#000", "rowPadding": -16.65, "padding": 0, "encode": {"symbols": {"update": {"strokeWidth": {"signal": "datum.value === 'M_0.15' ? 2.4 : 1.8"}}}}}},
     "strokeDash": {"field": "M", "type": "nominal", "scale": {"domain": ["M_0.15","M_0.175","M_0.2","M_0.225","M_0.25","M_0.275","M_0.3","M_0.325","M_0.35","M_0.375","M_0.4"], "range": [[1,0],[2,4],[8,5],[1,0],[2,4],[8,5],[1,0],[2,4],[8,5],[1,0],[2,4]]},
       "legend": {"title": null, "orient": "none", "legendX": 73, "legendY": 455, "symbolType": "stroke", "symbolSize": 2704, "symbolStrokeWidth": 1.8, "symbolOffset": 87, "labelOffset": -122, "labelAlign": "left", "labelFontSize": 16.5, "labelColor": "#000", "rowPadding": -16.65, "padding": 0, "encode": {"symbols": {"update": {"strokeWidth": {"signal": "datum.value === 'M_0.15' ? 2.4 : 1.8"}}}}}},
     "strokeWidth": {"condition": {"test": "datum.M == 'M_0.15'", "value": 2.3}, "value": 1.7}}},
  {"data": {"name": "catch"}, "transform": [{"filter": "datum.panel == 'BaseCase'"}],
   "mark": {"type": "point", "shape": "circle", "filled": false, "size": 36, "strokeWidth": 1, "opacity": 1},
   "encoding": {
     "x": {"field": "size", "type": "quantitative", "axis": null},
     "y": {"field": "catch", "type": "quantitative", "axis": null},
     "color": {"field": "M", "type": "nominal", "scale": {"domain": ["M_0.15","M_0.175","M_0.2","M_0.225","M_0.25","M_0.275","M_0.3","M_0.325","M_0.35","M_0.375","M_0.4"], "range": ["#000000","#000000","#1f1f1f","#4d4d4d","#7f7f7f","#7f7f7f","#a6a6a6","#000000","#1a1a1a","#1a1a1a","#595959"]}, "legend": null}}}
 ],
 "resolve": {"axis": {"x": "independent", "y": "independent"}}
},
{
 "width": 370, "height": 679,
 "layer": [
  {"data": {"values": [{"panel": "Biosamples"}]},
   "mark": {"type": "rect", "fill": "#FFE5CC", "stroke": "#000", "strokeWidth": 1},
   "encoding": {
     "x": {"datum": 75.9, "type": "quantitative", "scale": {"domain": [75.9, 110], "nice": false, "zero": false}, "axis": {"orient": "top", "values": [80,85,90,95,100,105,110], "labelExpr": "datum.value == 110 ? '' : datum.label", "title": null, "labelPadding": 7}},
     "x2": {"datum": 110},
     "y": {"datum": 1.214, "type": "quantitative", "scale": {"domain": [0, 1.2527], "nice": false, "zero": false}, "axis": null},
     "y2": {"datum": 1.2527}}},
  {"data": {"values": [{"panel": "Biosamples"}]},
   "mark": {"type": "text", "font": "Liberation Sans", "fontSize": 17, "color": "#000"},
   "encoding": {"x": {"datum": 92.95, "type": "quantitative", "axis": null}, "y": {"datum": 1.2335, "type": "quantitative", "axis": null}, "text": {"field": "panel"}}},
  {"data": {"values": [{"legal": 86}]},
   "mark": {"type": "rule", "color": "#808080", "strokeDash": [4, 3], "strokeWidth": 1},
   "encoding": {"x": {"field": "legal", "type": "quantitative", "axis": null}, "y": {"datum": 0, "type": "quantitative", "axis": null}, "y2": {"datum": 1.214}}},
  {"data": {"name": "catch"}, "transform": [{"filter": "datum.panel == 'Biosamples'"}],
   "mark": {"type": "line"},
   "encoding": {
     "x": {"field": "size", "type": "quantitative", "axis": {"orient": "bottom", "values": [80,85,90,95,100,105,110], "labelExpr": "datum.value == 110 ? '' : datum.label", "title": "Minimum Legal Size (mm)", "titlePadding": 15, "titleX": 177, "labelPadding": 5.5}},
     "y": {"field": "catch", "type": "quantitative", "axis": null},
     "color": {"field": "M", "type": "nominal", "scale": {"domain": ["M_0.15","M_0.175","M_0.2","M_0.225","M_0.25","M_0.275","M_0.3","M_0.325","M_0.35","M_0.375","M_0.4"], "range": ["#000000","#000000","#1f1f1f","#4d4d4d","#7f7f7f","#7f7f7f","#a6a6a6","#000000","#1a1a1a","#1a1a1a","#595959"]}, "legend": null},
     "strokeDash": {"field": "M", "type": "nominal", "scale": {"domain": ["M_0.15","M_0.175","M_0.2","M_0.225","M_0.25","M_0.275","M_0.3","M_0.325","M_0.35","M_0.375","M_0.4"], "range": [[1,0],[2,4],[8,5],[1,0],[2,4],[8,5],[1,0],[2,4],[8,5],[1,0],[2,4]]}, "legend": null},
     "strokeWidth": {"condition": {"test": "datum.M == 'M_0.15'", "value": 2.3}, "value": 1.7}}},
  {"data": {"name": "catch"}, "transform": [{"filter": "datum.panel == 'Biosamples'"}],
   "mark": {"type": "point", "shape": "circle", "filled": false, "size": 36, "strokeWidth": 1, "opacity": 1},
   "encoding": {
     "x": {"field": "size", "type": "quantitative", "axis": null},
     "y": {"field": "catch", "type": "quantitative", "axis": null},
     "color": {"field": "M", "type": "nominal", "scale": {"domain": ["M_0.15","M_0.175","M_0.2","M_0.225","M_0.25","M_0.275","M_0.3","M_0.325","M_0.35","M_0.375","M_0.4"], "range": ["#000000","#000000","#1f1f1f","#4d4d4d","#7f7f7f","#7f7f7f","#a6a6a6","#000000","#1a1a1a","#1a1a1a","#595959"]}, "legend": null}}}
 ],
 "resolve": {"axis": {"x": "independent", "y": "independent"}}
},
{
 "width": 370, "height": 679,
 "layer": [
  {"data": {"values": [{"panel": "SlowGrowth"}]},
   "mark": {"type": "rect", "fill": "#FFE5CC", "stroke": "#000", "strokeWidth": 1},
   "encoding": {
     "x": {"datum": 75.9, "type": "quantitative", "scale": {"domain": [75.9, 110], "nice": false, "zero": false}, "axis": {"orient": "top", "values": [80,85,90,95,100,105,110], "labelExpr": "datum.value == 110 ? '' : datum.label", "title": null, "labelPadding": 7}},
     "x2": {"datum": 110},
     "y": {"datum": 1.214, "type": "quantitative", "scale": {"domain": [0, 1.2527], "nice": false, "zero": false}, "axis": null},
     "y2": {"datum": 1.2527}}},
  {"data": {"values": [{"panel": "SlowGrowth"}]},
   "mark": {"type": "text", "font": "Liberation Sans", "fontSize": 17, "color": "#000"},
   "encoding": {"x": {"datum": 92.95, "type": "quantitative", "axis": null}, "y": {"datum": 1.2335, "type": "quantitative", "axis": null}, "text": {"field": "panel"}}},
  {"data": {"values": [{"legal": 86}]},
   "mark": {"type": "rule", "color": "#808080", "strokeDash": [4, 3], "strokeWidth": 1},
   "encoding": {"x": {"field": "legal", "type": "quantitative", "axis": null}, "y": {"datum": 0, "type": "quantitative", "axis": null}, "y2": {"datum": 1.214}}},
  {"data": {"name": "catch"}, "transform": [{"filter": "datum.panel == 'SlowGrowth'"}],
   "mark": {"type": "line"},
   "encoding": {
     "x": {"field": "size", "type": "quantitative", "axis": {"orient": "bottom", "values": [80,85,90,95,100,105,110], "labelExpr": "datum.value == 110 ? '' : datum.label", "title": null, "labelPadding": 5.5}},
     "y": {"field": "catch", "type": "quantitative", "axis": {"orient": "right", "values": [0,0.2,0.4,0.6,0.8,1,1.2], "labelExpr": "datum.value == 0 || datum.value == 1.2 ? '' : format(datum.value, '.1f')", "labelPadding": 6, "title": null}},
     "color": {"field": "M", "type": "nominal", "scale": {"domain": ["M_0.15","M_0.175","M_0.2","M_0.225","M_0.25","M_0.275","M_0.3","M_0.325","M_0.35","M_0.375","M_0.4"], "range": ["#000000","#000000","#1f1f1f","#4d4d4d","#7f7f7f","#7f7f7f","#a6a6a6","#000000","#1a1a1a","#1a1a1a","#595959"]}, "legend": null},
     "strokeDash": {"field": "M", "type": "nominal", "scale": {"domain": ["M_0.15","M_0.175","M_0.2","M_0.225","M_0.25","M_0.275","M_0.3","M_0.325","M_0.35","M_0.375","M_0.4"], "range": [[1,0],[2,4],[8,5],[1,0],[2,4],[8,5],[1,0],[2,4],[8,5],[1,0],[2,4]]}, "legend": null},
     "strokeWidth": {"condition": {"test": "datum.M == 'M_0.15'", "value": 2.3}, "value": 1.7}}},
  {"data": {"name": "catch"}, "transform": [{"filter": "datum.panel == 'SlowGrowth'"}],
   "mark": {"type": "point", "shape": "circle", "filled": false, "size": 36, "strokeWidth": 1, "opacity": 1},
   "encoding": {
     "x": {"field": "size", "type": "quantitative", "axis": null},
     "y": {"field": "catch", "type": "quantitative", "axis": null},
     "color": {"field": "M", "type": "nominal", "scale": {"domain": ["M_0.15","M_0.175","M_0.2","M_0.225","M_0.25","M_0.275","M_0.3","M_0.325","M_0.35","M_0.375","M_0.4"], "range": ["#000000","#000000","#1f1f1f","#4d4d4d","#7f7f7f","#7f7f7f","#a6a6a6","#000000","#1a1a1a","#1a1a1a","#595959"]}, "legend": null}}}
 ],
 "resolve": {"axis": {"x": "independent", "y": "independent"}}
}
],
"spacing": 0,
"bounds": "flush",
"resolve": {"scale": {"color": "independent", "strokeDash": "independent"}}
}
